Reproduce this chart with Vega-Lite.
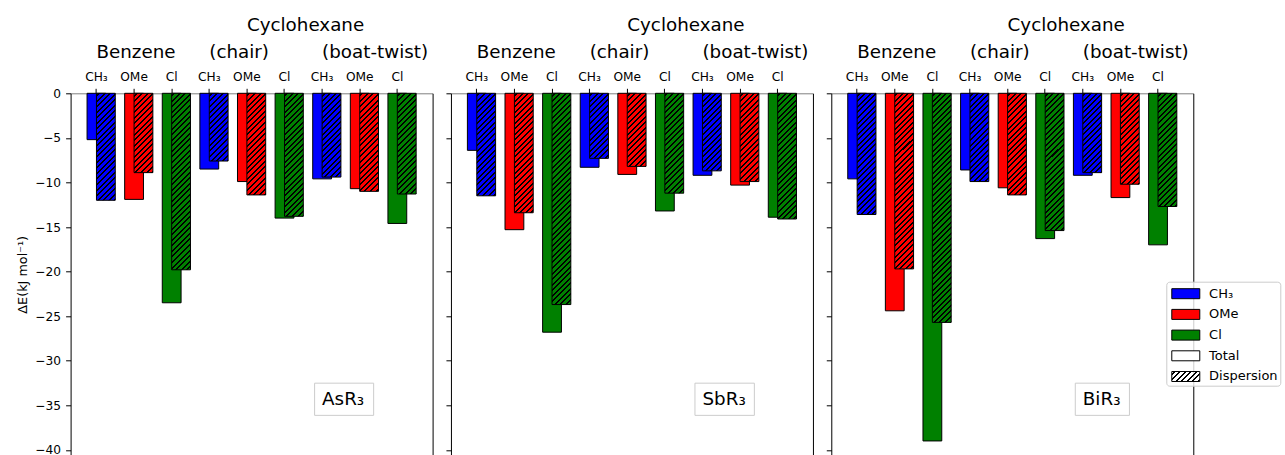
{
"$schema": "https://vega.github.io/schema/vega-lite/v6.json",
"background": "white",
"autosize": {"type": "pad"},
"padding": {"left": 16.6, "top": 15.3, "right": 0, "bottom": 0},
"params": [{"name": "hs", "value": [
{"offset":0.0064,"color":"transparent"},{"offset":0.0064,"color":"#000"},{"offset":0.0136,"color":"#000"},{"offset":0.0136,"color":"transparent"},
{"offset":0.0264,"color":"transparent"},{"offset":0.0264,"color":"#000"},{"offset":0.0336,"color":"#000"},{"offset":0.0336,"color":"transparent"},
{"offset":0.0464,"color":"transparent"},{"offset":0.0464,"color":"#000"},{"offset":0.0536,"color":"#000"},{"offset":0.0536,"color":"transparent"},
{"offset":0.0664,"color":"transparent"},{"offset":0.0664,"color":"#000"},{"offset":0.0736,"color":"#000"},{"offset":0.0736,"color":"transparent"},
{"offset":0.0864,"color":"transparent"},{"offset":0.0864,"color":"#000"},{"offset":0.0936,"color":"#000"},{"offset":0.0936,"color":"transparent"},
{"offset":0.1064,"color":"transparent"},{"offset":0.1064,"color":"#000"},{"offset":0.1136,"color":"#000"},{"offset":0.1136,"color":"transparent"},
{"offset":0.1264,"color":"transparent"},{"offset":0.1264,"color":"#000"},{"offset":0.1336,"color":"#000"},{"offset":0.1336,"color":"transparent"},
{"offset":0.1464,"color":"transparent"},{"offset":0.1464,"color":"#000"},{"offset":0.1536,"color":"#000"},{"offset":0.1536,"color":"transparent"},
{"offset":0.1664,"color":"transparent"},{"offset":0.1664,"color":"#000"},{"offset":0.1736,"color":"#000"},{"offset":0.1736,"color":"transparent"},
{"offset":0.1864,"color":"transparent"},{"offset":0.1864,"color":"#000"},{"offset":0.1936,"color":"#000"},{"offset":0.1936,"color":"transparent"},
{"offset":0.2064,"color":"transparent"},{"offset":0.2064,"color":"#000"},{"offset":0.2136,"color":"#000"},{"offset":0.2136,"color":"transparent"},
{"offset":0.2264,"color":"transparent"},{"offset":0.2264,"color":"#000"},{"offset":0.2336,"color":"#000"},{"offset":0.2336,"color":"transparent"},
{"offset":0.2464,"color":"transparent"},{"offset":0.2464,"color":"#000"},{"offset":0.2536,"color":"#000"},{"offset":0.2536,"color":"transparent"},
{"offset":0.2664,"color":"transparent"},{"offset":0.2664,"color":"#000"},{"offset":0.2736,"color":"#000"},{"offset":0.2736,"color":"transparent"},
{"offset":0.2864,"color":"transparent"},{"offset":0.2864,"color":"#000"},{"offset":0.2936,"color":"#000"},{"offset":0.2936,"color":"transparent"},
{"offset":0.3064,"color":"transparent"},{"offset":0.3064,"color":"#000"},{"offset":0.3136,"color":"#000"},{"offset":0.3136,"color":"transparent"},
{"offset":0.3264,"color":"transparent"},{"offset":0.3264,"color":"#000"},{"offset":0.3336,"color":"#000"},{"offset":0.3336,"color":"transparent"},
{"offset":0.3464,"color":"transparent"},{"offset":0.3464,"color":"#000"},{"offset":0.3536,"color":"#000"},{"offset":0.3536,"color":"transparent"},
{"offset":0.3664,"color":"transparent"},{"offset":0.3664,"color":"#000"},{"offset":0.3736,"color":"#000"},{"offset":0.3736,"color":"transparent"},
{"offset":0.3864,"color":"transparent"},{"offset":0.3864,"color":"#000"},{"offset":0.3936,"color":"#000"},{"offset":0.3936,"color":"transparent"},
{"offset":0.4064,"color":"transparent"},{"offset":0.4064,"color":"#000"},{"offset":0.4136,"color":"#000"},{"offset":0.4136,"color":"transparent"},
{"offset":0.4264,"color":"transparent"},{"offset":0.4264,"color":"#000"},{"offset":0.4336,"color":"#000"},{"offset":0.4336,"color":"transparent"},
{"offset":0.4464,"color":"transparent"},{"offset":0.4464,"color":"#000"},{"offset":0.4536,"color":"#000"},{"offset":0.4536,"color":"transparent"},
{"offset":0.4664,"color":"transparent"},{"offset":0.4664,"color":"#000"},{"offset":0.4736,"color":"#000"},{"offset":0.4736,"color":"transparent"},
{"offset":0.4864,"color":"transparent"},{"offset":0.4864,"color":"#000"},{"offset":0.4936,"color":"#000"},{"offset":0.4936,"color":"transparent"},
{"offset":0.5064,"color":"transparent"},{"offset":0.5064,"color":"#000"},{"offset":0.5136,"color":"#000"},{"offset":0.5136,"color":"transparent"},
{"offset":0.5264,"color":"transparent"},{"offset":0.5264,"color":"#000"},{"offset":0.5336,"color":"#000"},{"offset":0.5336,"color":"transparent"},
{"offset":0.5464,"color":"transparent"},{"offset":0.5464,"color":"#000"},{"offset":0.5536,"color":"#000"},{"offset":0.5536,"color":"transparent"},
{"offset":0.5664,"color":"transparent"},{"offset":0.5664,"color":"#000"},{"offset":0.5736,"color":"#000"},{"offset":0.5736,"color":"transparent"},
{"offset":0.5864,"color":"transparent"},{"offset":0.5864,"color":"#000"},{"offset":0.5936,"color":"#000"},{"offset":0.5936,"color":"transparent"},
{"offset":0.6064,"color":"transparent"},{"offset":0.6064,"color":"#000"},{"offset":0.6136,"color":"#000"},{"offset":0.6136,"color":"transparent"},
{"offset":0.6264,"color":"transparent"},{"offset":0.6264,"color":"#000"},{"offset":0.6336,"color":"#000"},{"offset":0.6336,"color":"transparent"},
{"offset":0.6464,"color":"transparent"},{"offset":0.6464,"color":"#000"},{"offset":0.6536,"color":"#000"},{"offset":0.6536,"color":"transparent"},
{"offset":0.6664,"color":"transparent"},{"offset":0.6664,"color":"#000"},{"offset":0.6736,"color":"#000"},{"offset":0.6736,"color":"transparent"},
{"offset":0.6864,"color":"transparent"},{"offset":0.6864,"color":"#000"},{"offset":0.6936,"color":"#000"},{"offset":0.6936,"color":"transparent"},
{"offset":0.7064,"color":"transparent"},{"offset":0.7064,"color":"#000"},{"offset":0.7136,"color":"#000"},{"offset":0.7136,"color":"transparent"},
{"offset":0.7264,"color":"transparent"},{"offset":0.7264,"color":"#000"},{"offset":0.7336,"color":"#000"},{"offset":0.7336,"color":"transparent"},
{"offset":0.7464,"color":"transparent"},{"offset":0.7464,"color":"#000"},{"offset":0.7536,"color":"#000"},{"offset":0.7536,"color":"transparent"},
{"offset":0.7664,"color":"transparent"},{"offset":0.7664,"color":"#000"},{"offset":0.7736,"color":"#000"},{"offset":0.7736,"color":"transparent"},
{"offset":0.7864,"color":"transparent"},{"offset":0.7864,"color":"#000"},{"offset":0.7936,"color":"#000"},{"offset":0.7936,"color":"transparent"},
{"offset":0.8064,"color":"transparent"},{"offset":0.8064,"color":"#000"},{"offset":0.8136,"color":"#000"},{"offset":0.8136,"color":"transparent"},
{"offset":0.8264,"color":"transparent"},{"offset":0.8264,"color":"#000"},{"offset":0.8336,"color":"#000"},{"offset":0.8336,"color":"transparent"},
{"offset":0.8464,"color":"transparent"},{"offset":0.8464,"color":"#000"},{"offset":0.8536,"color":"#000"},{"offset":0.8536,"color":"transparent"},
{"offset":0.8664,"color":"transparent"},{"offset":0.8664,"color":"#000"},{"offset":0.8736,"color":"#000"},{"offset":0.8736,"color":"transparent"},
{"offset":0.8864,"color":"transparent"},{"offset":0.8864,"color":"#000"},{"offset":0.8936,"color":"#000"},{"offset":0.8936,"color":"transparent"},
{"offset":0.9064,"color":"transparent"},{"offset":0.9064,"color":"#000"},{"offset":0.9136,"color":"#000"},{"offset":0.9136,"color":"transparent"},
{"offset":0.9264,"color":"transparent"},{"offset":0.9264,"color":"#000"},{"offset":0.9336,"color":"#000"},{"offset":0.9336,"color":"transparent"},
{"offset":0.9464,"color":"transparent"},{"offset":0.9464,"color":"#000"},{"offset":0.9536,"color":"#000"},{"offset":0.9536,"color":"transparent"},
{"offset":0.9664,"color":"transparent"},{"offset":0.9664,"color":"#000"},{"offset":0.9736,"color":"#000"},{"offset":0.9736,"color":"transparent"},
{"offset":0.9864,"color":"transparent"},{"offset":0.9864,"color":"#000"},{"offset":0.9936,"color":"#000"},{"offset":0.9936,"color":"transparent"}
]}],
"datasets": {"energies": [
{"panel":"AsR₃","site":"Benzene|CH₃","sub":"CH₃","part":"Total","value":-5.2},
{"panel":"AsR₃","site":"Benzene|CH₃","sub":"CH₃","part":"Dispersion","value":-12.0},
{"panel":"AsR₃","site":"Benzene|OMe","sub":"OMe","part":"Total","value":-11.9},
{"panel":"AsR₃","site":"Benzene|OMe","sub":"OMe","part":"Dispersion","value":-8.9},
{"panel":"AsR₃","site":"Benzene|Cl","sub":"Cl","part":"Total","value":-23.5},
{"panel":"AsR₃","site":"Benzene|Cl","sub":"Cl","part":"Dispersion","value":-19.8},
{"panel":"AsR₃","site":"chair|CH₃","sub":"CH₃","part":"Total","value":-8.5},
{"panel":"AsR₃","site":"chair|CH₃","sub":"CH₃","part":"Dispersion","value":-7.6},
{"panel":"AsR₃","site":"chair|OMe","sub":"OMe","part":"Total","value":-9.9},
{"panel":"AsR₃","site":"chair|OMe","sub":"OMe","part":"Dispersion","value":-11.4},
{"panel":"AsR₃","site":"chair|Cl","sub":"Cl","part":"Total","value":-14.0},
{"panel":"AsR₃","site":"chair|Cl","sub":"Cl","part":"Dispersion","value":-13.8},
{"panel":"AsR₃","site":"boat-twist|CH₃","sub":"CH₃","part":"Total","value":-9.6},
{"panel":"AsR₃","site":"boat-twist|CH₃","sub":"CH₃","part":"Dispersion","value":-9.4},
{"panel":"AsR₃","site":"boat-twist|OMe","sub":"OMe","part":"Total","value":-10.7},
{"panel":"AsR₃","site":"boat-twist|OMe","sub":"OMe","part":"Dispersion","value":-11.0},
{"panel":"AsR₃","site":"boat-twist|Cl","sub":"Cl","part":"Total","value":-14.6},
{"panel":"AsR₃","site":"boat-twist|Cl","sub":"Cl","part":"Dispersion","value":-11.3},
{"panel":"SbR₃","site":"Benzene|CH₃","sub":"CH₃","part":"Total","value":-6.4},
{"panel":"SbR₃","site":"Benzene|CH₃","sub":"CH₃","part":"Dispersion","value":-11.5},
{"panel":"SbR₃","site":"Benzene|OMe","sub":"OMe","part":"Total","value":-15.3},
{"panel":"SbR₃","site":"Benzene|OMe","sub":"OMe","part":"Dispersion","value":-13.4},
{"panel":"SbR₃","site":"Benzene|Cl","sub":"Cl","part":"Total","value":-26.8},
{"panel":"SbR₃","site":"Benzene|Cl","sub":"Cl","part":"Dispersion","value":-23.7},
{"panel":"SbR₃","site":"chair|CH₃","sub":"CH₃","part":"Total","value":-8.3},
{"panel":"SbR₃","site":"chair|CH₃","sub":"CH₃","part":"Dispersion","value":-7.3},
{"panel":"SbR₃","site":"chair|OMe","sub":"OMe","part":"Total","value":-9.1},
{"panel":"SbR₃","site":"chair|OMe","sub":"OMe","part":"Dispersion","value":-8.2},
{"panel":"SbR₃","site":"chair|Cl","sub":"Cl","part":"Total","value":-13.2},
{"panel":"SbR₃","site":"chair|Cl","sub":"Cl","part":"Dispersion","value":-11.2},
{"panel":"SbR₃","site":"boat-twist|CH₃","sub":"CH₃","part":"Total","value":-9.2},
{"panel":"SbR₃","site":"boat-twist|CH₃","sub":"CH₃","part":"Dispersion","value":-8.7},
{"panel":"SbR₃","site":"boat-twist|OMe","sub":"OMe","part":"Total","value":-10.3},
{"panel":"SbR₃","site":"boat-twist|OMe","sub":"OMe","part":"Dispersion","value":-9.9},
{"panel":"SbR₃","site":"boat-twist|Cl","sub":"Cl","part":"Total","value":-13.9},
{"panel":"SbR₃","site":"boat-twist|Cl","sub":"Cl","part":"Dispersion","value":-14.1},
{"panel":"BiR₃","site":"Benzene|CH₃","sub":"CH₃","part":"Total","value":-9.6},
{"panel":"BiR₃","site":"Benzene|CH₃","sub":"CH₃","part":"Dispersion","value":-13.6},
{"panel":"BiR₃","site":"Benzene|OMe","sub":"OMe","part":"Total","value":-24.4},
{"panel":"BiR₃","site":"Benzene|OMe","sub":"OMe","part":"Dispersion","value":-19.7},
{"panel":"BiR₃","site":"Benzene|Cl","sub":"Cl","part":"Total","value":-39.0},
{"panel":"BiR₃","site":"Benzene|Cl","sub":"Cl","part":"Dispersion","value":-25.7},
{"panel":"BiR₃","site":"chair|CH₃","sub":"CH₃","part":"Total","value":-8.6},
{"panel":"BiR₃","site":"chair|CH₃","sub":"CH₃","part":"Dispersion","value":-9.9},
{"panel":"BiR₃","site":"chair|OMe","sub":"OMe","part":"Total","value":-10.6},
{"panel":"BiR₃","site":"chair|OMe","sub":"OMe","part":"Dispersion","value":-11.4},
{"panel":"BiR₃","site":"chair|Cl","sub":"Cl","part":"Total","value":-16.3},
{"panel":"BiR₃","site":"chair|Cl","sub":"Cl","part":"Dispersion","value":-15.4},
{"panel":"BiR₃","site":"boat-twist|CH₃","sub":"CH₃","part":"Total","value":-9.2},
{"panel":"BiR₃","site":"boat-twist|CH₃","sub":"CH₃","part":"Dispersion","value":-8.9},
{"panel":"BiR₃","site":"boat-twist|OMe","sub":"OMe","part":"Total","value":-11.7},
{"panel":"BiR₃","site":"boat-twist|OMe","sub":"OMe","part":"Dispersion","value":-10.2},
{"panel":"BiR₃","site":"boat-twist|Cl","sub":"Cl","part":"Total","value":-17.0},
{"panel":"BiR₃","site":"boat-twist|Cl","sub":"Cl","part":"Dispersion","value":-12.7}
]},
"hconcat": [
{
 "width": 362, "height": 362,
 "data": {"name": "energies"},
 "transform": [{"filter": "datum.panel === 'AsR₃'"}],
 "resolve": {"scale": {"x": "independent"}, "axis": {"y": "independent"}},
 "layer": [
  {"transform": [{"filter": "datum.part === 'Total'"}],
   "mark": {"type": "bar", "width": {"band": 0.5}, "stroke": "black", "strokeWidth": 1},
   "encoding": {
    "x": {"field": "site", "type": "nominal", "scale": {"type": "band", "domain": ["Benzene|CH₃","Benzene|OMe","Benzene|Cl","chair|CH₃","chair|OMe","chair|Cl","boat-twist|CH₃","boat-twist|OMe","boat-twist|Cl"], "paddingInner": 0, "paddingOuter": 0.3125, "align": 0.3},
          "axis": {"orient": "top", "labelExpr": "split(datum.value, '|')[1]", "labelAngle": 0, "labelFontSize": 12.2, "labelColor": "black", "labelPadding": 5, "tickSize": 5, "tickColor": "black", "domainColor": "#808080", "title": null, "labelOverlap": false, "labelBound": false}},
    "y": {"field": "value", "type": "quantitative", "scale": {"domain": [-40.61, 0], "nice": false, "zero": false},
          "axis": {"orient": "left", "values": [-40,-35,-30,-25,-20,-15,-10,-5,0], "tickSize": 5, "tickColor": "black", "domainColor": "black", "labelFontSize": 12.2, "labelColor": "black", "labelPadding": 5, "labelFlush": false, "title": "ΔE(kJ mol⁻¹)", "titleFontSize": 12.8, "titleFontWeight": "normal", "titleColor": "black", "titlePadding": 5}},
    "color": {"field": "sub", "type": "nominal", "scale": {"domain": ["CH₃","OMe","Cl","Total","Dispersion"], "range": ["blue","red","green","white",{"expr": "{gradient: 'linear', x1: 0, y1: 0, x2: 8.805, y2: 3.145, stops: hs}"}]},
          "legend": {"orient": "none", "legendX": 1095.7, "legendY": 188.4, "title": null}}
   }},
  {"transform": [{"filter": "datum.part === 'Dispersion'"}],
   "mark": {"type": "bar", "width": {"band": 0.5}, "xOffset": 9.4},
   "encoding": {
    "x": {"field": "site", "type": "nominal", "scale": {"type": "band", "domain": ["Benzene|CH₃","Benzene|OMe","Benzene|Cl","chair|CH₃","chair|OMe","chair|Cl","boat-twist|CH₃","boat-twist|OMe","boat-twist|Cl"], "paddingInner": 0, "paddingOuter": 0.3125, "align": 0.3}, "axis": null},
    "y": {"field": "value", "type": "quantitative", "scale": {"domain": [-40.61, 0], "nice": false, "zero": false},
          "axis": {"orient": "right", "ticks": false, "labels": false, "domainColor": "black", "title": null}},
    "fill": {"field": "sub", "type": "nominal", "scale": {"domain": ["CH₃","OMe","Cl"], "range": ["blue","red","green"]}, "legend": null}
   }},
  {"transform": [{"filter": "datum.part === 'Dispersion'"}],
   "mark": {"type": "bar", "width": {"band": 0.5}, "xOffset": 9.4, "stroke": "black", "strokeWidth": 1,
            "fill": {"expr": "{gradient: 'linear', x1: 0, y1: 0, x2: 5226.4 / (353.4 + pow(8.914 * datum.value, 2)), y2: -2478 * datum.value / (353.4 + pow(8.914 * datum.value, 2)), stops: hs}"}},
   "encoding": {
    "x": {"field": "site", "type": "nominal", "scale": {"type": "band", "domain": ["Benzene|CH₃","Benzene|OMe","Benzene|Cl","chair|CH₃","chair|OMe","chair|Cl","boat-twist|CH₃","boat-twist|OMe","boat-twist|Cl"], "paddingInner": 0, "paddingOuter": 0.3125, "align": 0.3}, "axis": null},
    "y": {"field": "value", "type": "quantitative", "scale": {"domain": [-40.61, 0], "nice": false, "zero": false}, "axis": null}
   }},
  {"data": {"values": [{}]},
   "mark": {"type": "rect", "fill": "white", "stroke": "#cccccc", "strokeWidth": 1},
   "encoding": {
    "x": {"datum": 5.8, "type": "quantitative", "scale": {"domain": [-0.6875, 8.9375], "nice": false, "zero": false}, "axis": null},
    "x2": {"datum": 7.37},
    "y": {"datum": -32.52, "type": "quantitative", "scale": {"domain": [-40.61, 0], "nice": false, "zero": false}, "axis": null},
    "y2": {"datum": -36.13}
   }},
  {"data": {"values": [{}]},
   "mark": {"type": "text", "text": "AsR₃", "align": "left", "baseline": "alphabetic", "fontSize": 18.3, "color": "black"},
   "encoding": {
    "x": {"datum": "boat-twist|CH₃", "type": "nominal", "scale": {"type": "band", "domain": ["Benzene|CH₃","Benzene|OMe","Benzene|Cl","chair|CH₃","chair|OMe","chair|Cl","boat-twist|CH₃","boat-twist|OMe","boat-twist|Cl"], "paddingInner": 0, "paddingOuter": 0.3125, "align": 0.3}, "axis": null},
    "y": {"datum": -35, "type": "quantitative", "scale": {"domain": [-40.61, 0], "nice": false, "zero": false}, "axis": null}
   }},
  {"data": {"values": [{}]},
   "mark": {"type": "text", "text": "Benzene", "align": "left", "baseline": "alphabetic", "fontSize": 18.3, "color": "black"},
   "encoding": {
    "x": {"datum": "Benzene|CH₃", "type": "nominal", "scale": {"type": "band", "domain": ["Benzene|CH₃","Benzene|OMe","Benzene|Cl","chair|CH₃","chair|OMe","chair|Cl","boat-twist|CH₃","boat-twist|OMe","boat-twist|Cl"], "paddingInner": 0, "paddingOuter": 0.3125, "align": 0.3}, "axis": null},
    "y": {"datum": 4, "type": "quantitative", "scale": {"domain": [-40.61, 0], "nice": false, "zero": false}, "axis": null}
   }},
  {"data": {"values": [{}]},
   "mark": {"type": "text", "text": "(chair)", "align": "left", "baseline": "alphabetic", "fontSize": 18.3, "color": "black"},
   "encoding": {
    "x": {"datum": "chair|CH₃", "type": "nominal", "scale": {"type": "band", "domain": ["Benzene|CH₃","Benzene|OMe","Benzene|Cl","chair|CH₃","chair|OMe","chair|Cl","boat-twist|CH₃","boat-twist|OMe","boat-twist|Cl"], "paddingInner": 0, "paddingOuter": 0.3125, "align": 0.3}, "axis": null},
    "y": {"datum": 4, "type": "quantitative", "scale": {"domain": [-40.61, 0], "nice": false, "zero": false}, "axis": null}
   }},
  {"data": {"values": [{}]},
   "mark": {"type": "text", "text": "(boat-twist)", "align": "left", "baseline": "alphabetic", "fontSize": 18.3, "color": "black"},
   "encoding": {
    "x": {"datum": "boat-twist|CH₃", "type": "nominal", "scale": {"type": "band", "domain": ["Benzene|CH₃","Benzene|OMe","Benzene|Cl","chair|CH₃","chair|OMe","chair|Cl","boat-twist|CH₃","boat-twist|OMe","boat-twist|Cl"], "paddingInner": 0, "paddingOuter": 0.3125, "align": 0.3}, "axis": null},
    "y": {"datum": 4, "type": "quantitative", "scale": {"domain": [-40.61, 0], "nice": false, "zero": false}, "axis": null}
   }},
  {"data": {"values": [{}]},
   "mark": {"type": "text", "text": "Cyclohexane", "align": "left", "baseline": "alphabetic", "fontSize": 18.3, "color": "black"},
   "encoding": {
    "x": {"datum": "chair|OMe", "type": "nominal", "scale": {"type": "band", "domain": ["Benzene|CH₃","Benzene|OMe","Benzene|Cl","chair|CH₃","chair|OMe","chair|Cl","boat-twist|CH₃","boat-twist|OMe","boat-twist|Cl"], "paddingInner": 0, "paddingOuter": 0.3125, "align": 0.3}, "axis": null},
    "y": {"datum": 7, "type": "quantitative", "scale": {"domain": [-40.61, 0], "nice": false, "zero": false}, "axis": null}
   }}
 ]
},
{
 "width": 362, "height": 362,
 "data": {"name": "energies"},
 "transform": [{"filter": "datum.panel === 'SbR₃'"}],
 "resolve": {"scale": {"x": "independent"}, "axis": {"y": "independent"}},
 "layer": [
  {"transform": [{"filter": "datum.part === 'Total'"}],
   "mark": {"type": "bar", "width": {"band": 0.5}, "stroke": "black", "strokeWidth": 1},
   "encoding": {
    "x": {"field": "site", "type": "nominal", "scale": {"type": "band", "domain": ["Benzene|CH₃","Benzene|OMe","Benzene|Cl","chair|CH₃","chair|OMe","chair|Cl","boat-twist|CH₃","boat-twist|OMe","boat-twist|Cl"], "paddingInner": 0, "paddingOuter": 0.3125, "align": 0.3},
          "axis": {"orient": "top", "labelExpr": "split(datum.value, '|')[1]", "labelAngle": 0, "labelFontSize": 12.2, "labelColor": "black", "labelPadding": 5, "tickSize": 5, "tickColor": "black", "domainColor": "#808080", "title": null, "labelOverlap": false, "labelBound": false}},
    "y": {"field": "value", "type": "quantitative", "scale": {"domain": [-40.61, 0], "nice": false, "zero": false},
          "axis": {"orient": "left", "values": [-40,-35,-30,-25,-20,-15,-10,-5,0], "tickSize": 5, "tickColor": "black", "domainColor": "black", "labels": false, "title": null}},
    "color": {"field": "sub", "type": "nominal", "scale": {"domain": ["CH₃","OMe","Cl","Total","Dispersion"], "range": ["blue","red","green","white",{"expr": "{gradient: 'linear', x1: 0, y1: 0, x2: 8.805, y2: 3.145, stops: hs}"}]},
          "legend": {"orient": "none", "legendX": 1095.7, "legendY": 188.4, "title": null}}
   }},
  {"transform": [{"filter": "datum.part === 'Dispersion'"}],
   "mark": {"type": "bar", "width": {"band": 0.5}, "xOffset": 9.4},
   "encoding": {
    "x": {"field": "site", "type": "nominal", "scale": {"type": "band", "domain": ["Benzene|CH₃","Benzene|OMe","Benzene|Cl","chair|CH₃","chair|OMe","chair|Cl","boat-twist|CH₃","boat-twist|OMe","boat-twist|Cl"], "paddingInner": 0, "paddingOuter": 0.3125, "align": 0.3}, "axis": null},
    "y": {"field": "value", "type": "quantitative", "scale": {"domain": [-40.61, 0], "nice": false, "zero": false},
          "axis": {"orient": "right", "ticks": false, "labels": false, "domainColor": "black", "title": null}},
    "fill": {"field": "sub", "type": "nominal", "scale": {"domain": ["CH₃","OMe","Cl"], "range": ["blue","red","green"]}, "legend": null}
   }},
  {"transform": [{"filter": "datum.part === 'Dispersion'"}],
   "mark": {"type": "bar", "width": {"band": 0.5}, "xOffset": 9.4, "stroke": "black", "strokeWidth": 1,
            "fill": {"expr": "{gradient: 'linear', x1: 0, y1: 0, x2: 5226.4 / (353.4 + pow(8.914 * datum.value, 2)), y2: -2478 * datum.value / (353.4 + pow(8.914 * datum.value, 2)), stops: hs}"}},
   "encoding": {
    "x": {"field": "site", "type": "nominal", "scale": {"type": "band", "domain": ["Benzene|CH₃","Benzene|OMe","Benzene|Cl","chair|CH₃","chair|OMe","chair|Cl","boat-twist|CH₃","boat-twist|OMe","boat-twist|Cl"], "paddingInner": 0, "paddingOuter": 0.3125, "align": 0.3}, "axis": null},
    "y": {"field": "value", "type": "quantitative", "scale": {"domain": [-40.61, 0], "nice": false, "zero": false}, "axis": null}
   }},
  {"data": {"values": [{}]},
   "mark": {"type": "rect", "fill": "white", "stroke": "#cccccc", "strokeWidth": 1},
   "encoding": {
    "x": {"datum": 5.8, "type": "quantitative", "scale": {"domain": [-0.6875, 8.9375], "nice": false, "zero": false}, "axis": null},
    "x2": {"datum": 7.38},
    "y": {"datum": -32.52, "type": "quantitative", "scale": {"domain": [-40.61, 0], "nice": false, "zero": false}, "axis": null},
    "y2": {"datum": -36.13}
   }},
  {"data": {"values": [{}]},
   "mark": {"type": "text", "text": "SbR₃", "align": "left", "baseline": "alphabetic", "fontSize": 18.3, "color": "black"},
   "encoding": {
    "x": {"datum": "boat-twist|CH₃", "type": "nominal", "scale": {"type": "band", "domain": ["Benzene|CH₃","Benzene|OMe","Benzene|Cl","chair|CH₃","chair|OMe","chair|Cl","boat-twist|CH₃","boat-twist|OMe","boat-twist|Cl"], "paddingInner": 0, "paddingOuter": 0.3125, "align": 0.3}, "axis": null},
    "y": {"datum": -35, "type": "quantitative", "scale": {"domain": [-40.61, 0], "nice": false, "zero": false}, "axis": null}
   }},
  {"data": {"values": [{}]},
   "mark": {"type": "text", "text": "Benzene", "align": "left", "baseline": "alphabetic", "fontSize": 18.3, "color": "black"},
   "encoding": {
    "x": {"datum": "Benzene|CH₃", "type": "nominal", "scale": {"type": "band", "domain": ["Benzene|CH₃","Benzene|OMe","Benzene|Cl","chair|CH₃","chair|OMe","chair|Cl","boat-twist|CH₃","boat-twist|OMe","boat-twist|Cl"], "paddingInner": 0, "paddingOuter": 0.3125, "align": 0.3}, "axis": null},
    "y": {"datum": 4, "type": "quantitative", "scale": {"domain": [-40.61, 0], "nice": false, "zero": false}, "axis": null}
   }},
  {"data": {"values": [{}]},
   "mark": {"type": "text", "text": "(chair)", "align": "left", "baseline": "alphabetic", "fontSize": 18.3, "color": "black"},
   "encoding": {
    "x": {"datum": "chair|CH₃", "type": "nominal", "scale": {"type": "band", "domain": ["Benzene|CH₃","Benzene|OMe","Benzene|Cl","chair|CH₃","chair|OMe","chair|Cl","boat-twist|CH₃","boat-twist|OMe","boat-twist|Cl"], "paddingInner": 0, "paddingOuter": 0.3125, "align": 0.3}, "axis": null},
    "y": {"datum": 4, "type": "quantitative", "scale": {"domain": [-40.61, 0], "nice": false, "zero": false}, "axis": null}
   }},
  {"data": {"values": [{}]},
   "mark": {"type": "text", "text": "(boat-twist)", "align": "left", "baseline": "alphabetic", "fontSize": 18.3, "color": "black"},
   "encoding": {
    "x": {"datum": "boat-twist|CH₃", "type": "nominal", "scale": {"type": "band", "domain": ["Benzene|CH₃","Benzene|OMe","Benzene|Cl","chair|CH₃","chair|OMe","chair|Cl","boat-twist|CH₃","boat-twist|OMe","boat-twist|Cl"], "paddingInner": 0, "paddingOuter": 0.3125, "align": 0.3}, "axis": null},
    "y": {"datum": 4, "type": "quantitative", "scale": {"domain": [-40.61, 0], "nice": false, "zero": false}, "axis": null}
   }},
  {"data": {"values": [{}]},
   "mark": {"type": "text", "text": "Cyclohexane", "align": "left", "baseline": "alphabetic", "fontSize": 18.3, "color": "black"},
   "encoding": {
    "x": {"datum": "chair|OMe", "type": "nominal", "scale": {"type": "band", "domain": ["Benzene|CH₃","Benzene|OMe","Benzene|Cl","chair|CH₃","chair|OMe","chair|Cl","boat-twist|CH₃","boat-twist|OMe","boat-twist|Cl"], "paddingInner": 0, "paddingOuter": 0.3125, "align": 0.3}, "axis": null},
    "y": {"datum": 7, "type": "quantitative", "scale": {"domain": [-40.61, 0], "nice": false, "zero": false}, "axis": null}
   }}
 ]
},
{
 "width": 362, "height": 362,
 "data": {"name": "energies"},
 "transform": [{"filter": "datum.panel === 'BiR₃'"}],
 "resolve": {"scale": {"x": "independent"}, "axis": {"y": "independent"}},
 "layer": [
  {"transform": [{"filter": "datum.part === 'Total'"}],
   "mark": {"type": "bar", "width": {"band": 0.5}, "stroke": "black", "strokeWidth": 1},
   "encoding": {
    "x": {"field": "site", "type": "nominal", "scale": {"type": "band", "domain": ["Benzene|CH₃","Benzene|OMe","Benzene|Cl","chair|CH₃","chair|OMe","chair|Cl","boat-twist|CH₃","boat-twist|OMe","boat-twist|Cl"], "paddingInner": 0, "paddingOuter": 0.3125, "align": 0.3},
          "axis": {"orient": "top", "labelExpr": "split(datum.value, '|')[1]", "labelAngle": 0, "labelFontSize": 12.2, "labelColor": "black", "labelPadding": 5, "tickSize": 5, "tickColor": "black", "domainColor": "#808080", "title": null, "labelOverlap": false, "labelBound": false}},
    "y": {"field": "value", "type": "quantitative", "scale": {"domain": [-40.61, 0], "nice": false, "zero": false},
          "axis": {"orient": "left", "values": [-40,-35,-30,-25,-20,-15,-10,-5,0], "tickSize": 5, "tickColor": "black", "domainColor": "black", "labels": false, "title": null}},
    "color": {"field": "sub", "type": "nominal", "scale": {"domain": ["CH₃","OMe","Cl","Total","Dispersion"], "range": ["blue","red","green","white",{"expr": "{gradient: 'linear', x1: 0, y1: 0, x2: 8.805, y2: 3.145, stops: hs}"}]},
          "legend": {"orient": "none", "legendX": 1095.7, "legendY": 188.4, "title": null}}
   }},
  {"transform": [{"filter": "datum.part === 'Dispersion'"}],
   "mark": {"type": "bar", "width": {"band": 0.5}, "xOffset": 9.4},
   "encoding": {
    "x": {"field": "site", "type": "nominal", "scale": {"type": "band", "domain": ["Benzene|CH₃","Benzene|OMe","Benzene|Cl","chair|CH₃","chair|OMe","chair|Cl","boat-twist|CH₃","boat-twist|OMe","boat-twist|Cl"], "paddingInner": 0, "paddingOuter": 0.3125, "align": 0.3}, "axis": null},
    "y": {"field": "value", "type": "quantitative", "scale": {"domain": [-40.61, 0], "nice": false, "zero": false},
          "axis": {"orient": "right", "ticks": false, "labels": false, "domainColor": "black", "title": null}},
    "fill": {"field": "sub", "type": "nominal", "scale": {"domain": ["CH₃","OMe","Cl"], "range": ["blue","red","green"]}, "legend": null}
   }},
  {"transform": [{"filter": "datum.part === 'Dispersion'"}],
   "mark": {"type": "bar", "width": {"band": 0.5}, "xOffset": 9.4, "stroke": "black", "strokeWidth": 1,
            "fill": {"expr": "{gradient: 'linear', x1: 0, y1: 0, x2: 5226.4 / (353.4 + pow(8.914 * datum.value, 2)), y2: -2478 * datum.value / (353.4 + pow(8.914 * datum.value, 2)), stops: hs}"}},
   "encoding": {
    "x": {"field": "site", "type": "nominal", "scale": {"type": "band", "domain": ["Benzene|CH₃","Benzene|OMe","Benzene|Cl","chair|CH₃","chair|OMe","chair|Cl","boat-twist|CH₃","boat-twist|OMe","boat-twist|Cl"], "paddingInner": 0, "paddingOuter": 0.3125, "align": 0.3}, "axis": null},
    "y": {"field": "value", "type": "quantitative", "scale": {"domain": [-40.61, 0], "nice": false, "zero": false}, "axis": null}
   }},
  {"data": {"values": [{}]},
   "mark": {"type": "rect", "fill": "white", "stroke": "#cccccc", "strokeWidth": 1},
   "encoding": {
    "x": {"datum": 5.8, "type": "quantitative", "scale": {"domain": [-0.6875, 8.9375], "nice": false, "zero": false}, "axis": null},
    "x2": {"datum": 7.24},
    "y": {"datum": -32.52, "type": "quantitative", "scale": {"domain": [-40.61, 0], "nice": false, "zero": false}, "axis": null},
    "y2": {"datum": -36.13}
   }},
  {"data": {"values": [{}]},
   "mark": {"type": "text", "text": "BiR₃", "align": "left", "baseline": "alphabetic", "fontSize": 18.3, "color": "black"},
   "encoding": {
    "x": {"datum": "boat-twist|CH₃", "type": "nominal", "scale": {"type": "band", "domain": ["Benzene|CH₃","Benzene|OMe","Benzene|Cl","chair|CH₃","chair|OMe","chair|Cl","boat-twist|CH₃","boat-twist|OMe","boat-twist|Cl"], "paddingInner": 0, "paddingOuter": 0.3125, "align": 0.3}, "axis": null},
    "y": {"datum": -35, "type": "quantitative", "scale": {"domain": [-40.61, 0], "nice": false, "zero": false}, "axis": null}
   }},
  {"data": {"values": [{}]},
   "mark": {"type": "text", "text": "Benzene", "align": "left", "baseline": "alphabetic", "fontSize": 18.3, "color": "black"},
   "encoding": {
    "x": {"datum": "Benzene|CH₃", "type": "nominal", "scale": {"type": "band", "domain": ["Benzene|CH₃","Benzene|OMe","Benzene|Cl","chair|CH₃","chair|OMe","chair|Cl","boat-twist|CH₃","boat-twist|OMe","boat-twist|Cl"], "paddingInner": 0, "paddingOuter": 0.3125, "align": 0.3}, "axis": null},
    "y": {"datum": 4, "type": "quantitative", "scale": {"domain": [-40.61, 0], "nice": false, "zero": false}, "axis": null}
   }},
  {"data": {"values": [{}]},
   "mark": {"type": "text", "text": "(chair)", "align": "left", "baseline": "alphabetic", "fontSize": 18.3, "color": "black"},
   "encoding": {
    "x": {"datum": "chair|CH₃", "type": "nominal", "scale": {"type": "band", "domain": ["Benzene|CH₃","Benzene|OMe","Benzene|Cl","chair|CH₃","chair|OMe","chair|Cl","boat-twist|CH₃","boat-twist|OMe","boat-twist|Cl"], "paddingInner": 0, "paddingOuter": 0.3125, "align": 0.3}, "axis": null},
    "y": {"datum": 4, "type": "quantitative", "scale": {"domain": [-40.61, 0], "nice": false, "zero": false}, "axis": null}
   }},
  {"data": {"values": [{}]},
   "mark": {"type": "text", "text": "(boat-twist)", "align": "left", "baseline": "alphabetic", "fontSize": 18.3, "color": "black"},
   "encoding": {
    "x": {"datum": "boat-twist|CH₃", "type": "nominal", "scale": {"type": "band", "domain": ["Benzene|CH₃","Benzene|OMe","Benzene|Cl","chair|CH₃","chair|OMe","chair|Cl","boat-twist|CH₃","boat-twist|OMe","boat-twist|Cl"], "paddingInner": 0, "paddingOuter": 0.3125, "align": 0.3}, "axis": null},
    "y": {"datum": 4, "type": "quantitative", "scale": {"domain": [-40.61, 0], "nice": false, "zero": false}, "axis": null}
   }},
  {"data": {"values": [{}]},
   "mark": {"type": "text", "text": "Cyclohexane", "align": "left", "baseline": "alphabetic", "fontSize": 18.3, "color": "black"},
   "encoding": {
    "x": {"datum": "chair|OMe", "type": "nominal", "scale": {"type": "band", "domain": ["Benzene|CH₃","Benzene|OMe","Benzene|Cl","chair|CH₃","chair|OMe","chair|Cl","boat-twist|CH₃","boat-twist|OMe","boat-twist|Cl"], "paddingInner": 0, "paddingOuter": 0.3125, "align": 0.3}, "axis": null},
    "y": {"datum": 7, "type": "quantitative", "scale": {"domain": [-40.61, 0], "nice": false, "zero": false}, "axis": null}
   }}
 ]
}
],
"spacing": 18.35,
"bounds": "flush",
"resolve": {"scale": {"x": "independent", "y": "independent", "color": "shared", "fill": "shared"}, "legend": {"color": "shared"}},
"config": {
 "font": "DejaVu Sans",
 "view": {"stroke": null},
 "axis": {"labelFont": "DejaVu Sans", "titleFont": "DejaVu Sans", "grid": false},
 "legend": {"labelFont": "DejaVu Sans", "labelFontSize": 13, "labelColor": "black", "symbolType": "M-1.474,-0.526H1.474V0.526H-1.474Z", "symbolSize": 361, "symbolStrokeColor": "black", "symbolStrokeWidth": 1, "symbolOpacity": 1, "rowPadding": 3.7, "padding": 2, "strokeColor": "#cccccc", "fillColor": "rgba(255,255,255,0.8)", "cornerRadius": 3, "symbolOffset": 7.5, "labelOffset": 13.3},
 "text": {"font": "DejaVu Sans"}
}
}
